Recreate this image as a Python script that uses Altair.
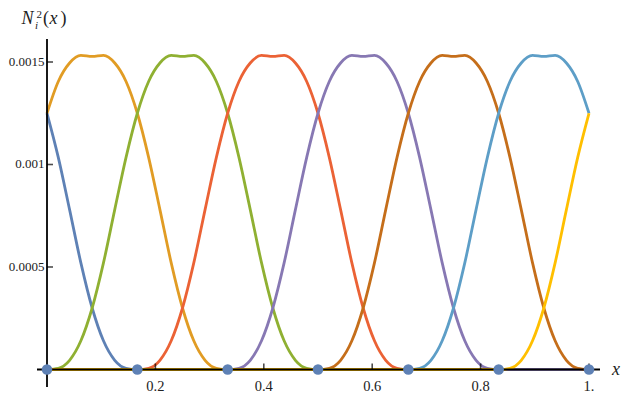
import altair as alt
import pandas as pd

# ---------------- data ----------------
# sample positions along x (steps of 1/48)
x_grid = [round(i / 48, 5) for i in range(49)]

# curve values in units of 1e-3, one list per basis function (49 samples each)
s1 = [1.25, 1.035, 0.78, 0.52, 0.30, 0.14, 0.045, 0.006,
      0, 0, 0, 0, 0, 0, 0, 0,
      0, 0, 0, 0, 0, 0, 0, 0,
      0, 0, 0, 0, 0, 0, 0, 0,
      0, 0, 0, 0, 0, 0, 0, 0,
      0, 0, 0, 0, 0, 0, 0, 0,
      0]
s2 = [1.25, 1.405, 1.495, 1.532, 1.527, 1.532, 1.495, 1.405,
      1.25, 1.035, 0.78, 0.52, 0.30, 0.14, 0.045, 0.006,
      0, 0, 0, 0, 0, 0, 0, 0,
      0, 0, 0, 0, 0, 0, 0, 0,
      0, 0, 0, 0, 0, 0, 0, 0,
      0, 0, 0, 0, 0, 0, 0, 0,
      0]
s3 = [0, 0.006, 0.045, 0.14, 0.30, 0.52, 0.78, 1.035,
      1.25, 1.405, 1.495, 1.532, 1.527, 1.532, 1.495, 1.405,
      1.25, 1.035, 0.78, 0.52, 0.30, 0.14, 0.045, 0.006,
      0, 0, 0, 0, 0, 0, 0, 0,
      0, 0, 0, 0, 0, 0, 0, 0,
      0, 0, 0, 0, 0, 0, 0, 0,
      0]
s4 = [0, 0, 0, 0, 0, 0, 0, 0,
      0, 0.006, 0.045, 0.14, 0.30, 0.52, 0.78, 1.035,
      1.25, 1.405, 1.495, 1.532, 1.527, 1.532, 1.495, 1.405,
      1.25, 1.035, 0.78, 0.52, 0.30, 0.14, 0.045, 0.006,
      0, 0, 0, 0, 0, 0, 0, 0,
      0, 0, 0, 0, 0, 0, 0, 0,
      0]
s5 = [0, 0, 0, 0, 0, 0, 0, 0,
      0, 0, 0, 0, 0, 0, 0, 0,
      0, 0.006, 0.045, 0.14, 0.30, 0.52, 0.78, 1.035,
      1.25, 1.405, 1.495, 1.532, 1.527, 1.532, 1.495, 1.405,
      1.25, 1.035, 0.78, 0.52, 0.30, 0.14, 0.045, 0.006,
      0, 0, 0, 0, 0, 0, 0, 0,
      0]
s6 = [0, 0, 0, 0, 0, 0, 0, 0,
      0, 0, 0, 0, 0, 0, 0, 0,
      0, 0, 0, 0, 0, 0, 0, 0,
      0, 0.006, 0.045, 0.14, 0.30, 0.52, 0.78, 1.035,
      1.25, 1.405, 1.495, 1.532, 1.527, 1.532, 1.495, 1.405,
      1.25, 1.035, 0.78, 0.52, 0.30, 0.14, 0.045, 0.006,
      0]
s7 = [0, 0, 0, 0, 0, 0, 0, 0,
      0, 0, 0, 0, 0, 0, 0, 0,
      0, 0, 0, 0, 0, 0, 0, 0,
      0, 0, 0, 0, 0, 0, 0, 0,
      0, 0.006, 0.045, 0.14, 0.30, 0.52, 0.78, 1.035,
      1.25, 1.405, 1.495, 1.532, 1.527, 1.532, 1.495, 1.405,
      1.25]
s8 = [0, 0, 0, 0, 0, 0, 0, 0,
      0, 0, 0, 0, 0, 0, 0, 0,
      0, 0, 0, 0, 0, 0, 0, 0,
      0, 0, 0, 0, 0, 0, 0, 0,
      0, 0, 0, 0, 0, 0, 0, 0,
      0, 0.006, 0.045, 0.14, 0.30, 0.52, 0.78, 1.035,
      1.25]

series = [s1, s2, s3, s4, s5, s6, s7, s8]
series_names = ["s1", "s2", "s3", "s4", "s5", "s6", "s7", "s8"]
series_colors = ["#5E81B5", "#E19C24", "#8FB032", "#EB6235",
                 "#8778B3", "#C56E1A", "#5D9EC7", "#FFBF00"]

node_x = [0, 0.16667, 0.33333, 0.5, 0.66667, 0.83333, 1.0]
node_y = [0, 0, 0, 0, 0, 0, 0]

x_ticks = [0.2, 0.4, 0.6, 0.8, 1.0]
x_tick_labels = ["0.2", "0.4", "0.6", "0.8", "1."]
y_ticks = [0.0005, 0.001, 0.0015]
y_tick_labels = ["0.0005", "0.001", "0.0015"]

# ---------------- tables ----------------
rows = []
for name, vals in zip(series_names, series):
    assert len(vals) == len(x_grid)
    for xv, v in zip(x_grid, vals):
        rows.append({"x": xv, "y": v * 1e-3, "series": name})
df = pd.DataFrame(rows)

nodes = pd.DataFrame({"x": node_x, "y": node_y})
xt = pd.DataFrame({"t": x_ticks, "label": x_tick_labels, "zero": [0] * len(x_ticks)})
yt = pd.DataFrame({"t": y_ticks, "label": y_tick_labels, "zero": [0] * len(y_ticks)})
one = pd.DataFrame({"v": [0]})

W, H = 563, 348
xs = alt.Scale(domain=[-0.01845, 1.0203], nice=False, zero=False)
ys = alt.Scale(domain=[-0.0000854, 0.0016122], nice=False, zero=False)
FONT = "Liberation Serif"

lines = alt.Chart(df).mark_line(interpolate="monotone", strokeWidth=2.8).encode(
    x=alt.X("x:Q", scale=xs, axis=None),
    y=alt.Y("y:Q", scale=ys, axis=None),
    color=alt.Color("series:N", scale=alt.Scale(domain=series_names, range=series_colors), legend=None),
)

x_axis = alt.Chart(one).mark_rule(color="black", strokeWidth=1.8).encode(
    y=alt.Y("v:Q", scale=ys, axis=None), x=alt.value(0), x2=alt.value(W)
)
y_axis = alt.Chart(one).mark_rule(color="black", strokeWidth=1.8).encode(
    x=alt.X("v:Q", scale=xs, axis=None), y=alt.value(0), y2=alt.value(H)
)

x_tick_marks = alt.Chart(xt).mark_tick(orient="vertical", size=6, thickness=1.6, yOffset=-3, color="black").encode(
    x=alt.X("t:Q", scale=xs, axis=None), y=alt.Y("zero:Q", scale=ys, axis=None)
)
y_tick_marks = alt.Chart(yt).mark_tick(orient="horizontal", size=6, thickness=1.6, xOffset=3, color="black").encode(
    y=alt.Y("t:Q", scale=ys, axis=None), x=alt.X("zero:Q", scale=xs, axis=None)
)

x_labels = alt.Chart(xt).mark_text(font=FONT, fontSize=14.5, align="center", baseline="alphabetic", color="#222222").encode(
    x=alt.X("t:Q", scale=xs, axis=None), y=alt.value(352), text="label:N"
)
y_labels = alt.Chart(yt).mark_text(font=FONT, fontSize=13, align="right", baseline="middle", color="#222222").encode(
    y=alt.Y("t:Q", scale=ys, axis=None), x=alt.value(7.5), text="label:N"
)

dots = alt.Chart(nodes).mark_circle(size=110, color="#5E81B5", opacity=1).encode(
    x=alt.X("x:Q", scale=xs, axis=None), y=alt.Y("y:Q", scale=ys, axis=None)
)


def txt(s, xpx, ypx, size, italic):
    return alt.Chart(one).mark_text(
        text=s, font=FONT, fontSize=size, fontStyle="italic" if italic else "normal",
        align="left", baseline="alphabetic", color="#222222"
    ).encode(x=alt.value(xpx), y=alt.value(ypx))


title_parts = [
    txt("N", -15.5, -15, 18, True),
    txt("2", -0.5, -21, 11, False),
    txt("i", -2, -10, 11, True),
    txt("(", 6, -15, 18, False),
    txt("x", 12.5, -15, 18, True),
    txt(")", 23.5, -15, 18, False),
    txt("x", 575, 336, 18, True),
]

chart = alt.layer(
    lines, x_axis, y_axis, x_tick_marks, y_tick_marks, x_labels, y_labels, dots, *title_parts
).properties(
    width=W, height=H,
    padding={"left": 29, "top": 31, "right": 23, "bottom": 7},
    autosize=alt.AutoSizeParams(type="none"),
    background="white",
).configure_view(stroke=None)

chart.save("out.html", embed_options={"renderer": "svg", "actions": False})
